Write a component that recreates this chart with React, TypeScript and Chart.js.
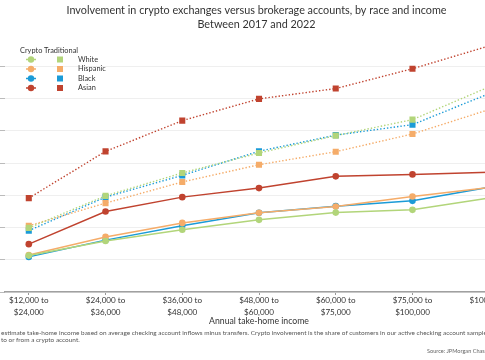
import React, { useEffect, useRef } from "react";
import { Chart, registerables } from "chart.js";

Chart.register(...registerables);

const categories: (string | string[])[] = [
  ["$12,000 to", "$24,000"],
  ["$24,000 to", "$36,000"],
  ["$36,000 to", "$48,000"],
  ["$48,000 to", "$60,000"],
  ["$60,000 to", "$75,000"],
  ["$75,000 to", "$100,000"],
  "$100,000+",
];

const yTicks = [0, 2, 4, 6, 8, 10, 12, 14];

// Crypto involvement (solid lines)
const whiteCrypto = [2.26, 3.17, 3.86, 4.48, 4.93, 5.1, 5.84];
const hispanicCrypto = [2.3, 3.42, 4.29, 4.92, 5.31, 5.93, 6.49];
const blackCrypto = [2.18, 3.22, 4.11, 4.92, 5.33, 5.66, 6.5];
const asianCrypto = [2.97, 5.0, 5.89, 6.45, 7.18, 7.3, 7.44];

// Traditional (brokerage) involvement (dotted lines)
const whiteTrad = [3.98, 5.97, 7.39, 8.63, 9.71, 10.7, 12.74];
const hispanicTrad = [4.11, 5.52, 6.83, 7.9, 8.71, 9.81, 11.33];
const blackTrad = [3.81, 5.89, 7.24, 8.74, 9.74, 10.39, 12.32];
const asianTrad = [5.83, 8.73, 10.64, 11.99, 12.63, 13.86, 15.28];

const groups = ["White", "Hispanic", "Black", "Asian"];
const colors = ["#b2d57a", "#f5ac69", "#1b9bd7", "#c0432f"];

const titleLines = [
  "Involvement in crypto exchanges versus brokerage accounts, by race and income",
  "Between 2017 and 2022",
];
const xTitle = "Annual take-home income";
const legendHeaders = ["Crypto", "Traditional"];
const note1 =
  "estimate take-home income based on average checking account inflows minus transfers. Crypto involvement is the share of customers in our active checking account sample";
const note2 = "to or from a crypto account.";
const source = "Source: JPMorgan Chase Institute";

const FONT = "Lato, 'Open Sans', sans-serif";
const SHIFT = 60;

const legendPlugin = {
  id: "customLegend",
  afterDraw(chart: any) {
    const ctx = chart.ctx as CanvasRenderingContext2D;
    ctx.save();
    ctx.font = `7.4px ${FONT}`;
    ctx.fillStyle = "#333";
    ctx.textBaseline = "middle";
    ctx.textAlign = "left";
    ctx.fillText(legendHeaders[0], SHIFT + 20, 51);
    ctx.fillText(legendHeaders[1], SHIFT + 44, 51);
    const rows = [59.5, 69, 78.5, 88];
    groups.forEach((g, i) => {
      const y = rows[i];
      const c = colors[i];
      ctx.strokeStyle = c;
      ctx.fillStyle = c;
      ctx.lineWidth = 1.5;
      ctx.beginPath();
      ctx.moveTo(SHIFT + 26, y);
      ctx.lineTo(SHIFT + 36, y);
      ctx.stroke();
      ctx.beginPath();
      ctx.arc(SHIFT + 31, y, 3.2, 0, Math.PI * 2);
      ctx.fill();
      ctx.fillRect(SHIFT + 57, y - 3, 6, 6);
      ctx.fillStyle = "#333";
      ctx.fillText(g, SHIFT + 78, y);
    });
    ctx.restore();
  },
};

export default function App() {
  const ref = useRef<HTMLCanvasElement>(null);
  useEffect(() => {
    document.body.style.margin = "0";
    const cryptoSets = [whiteCrypto, hispanicCrypto, blackCrypto, asianCrypto];
    const tradSets = [whiteTrad, hispanicTrad, blackTrad, asianTrad];
    const datasets: any[] = [];
    tradSets.forEach((d, i) => {
      datasets.push({
        label: groups[i] + " traditional",
        data: d.map((v, j) => ({ x: j, y: v })),
        borderColor: colors[i],
        backgroundColor: colors[i],
        borderWidth: 1.4,
        borderDash: [1.4, 2],
        pointStyle: "rect",
        pointRadius: 4.3,
        pointBorderWidth: 0,
        tension: 0,
      });
    });
    cryptoSets.forEach((d, i) => {
      datasets.push({
        label: groups[i] + " crypto",
        data: d.map((v, j) => ({ x: j, y: v })),
        borderColor: colors[i],
        backgroundColor: colors[i],
        borderWidth: 1.5,
        pointStyle: "circle",
        pointRadius: 3.3,
        pointBorderWidth: 0,
        tension: 0,
      });
    });
    const chart = new Chart(ref.current!, {
      type: "line",
      data: { datasets },
      plugins: [legendPlugin],
      options: {
        animation: false,
        responsive: false,
        layout: { padding: { left: SHIFT, right: 32, top: 0, bottom: 0 } },
        plugins: {
          legend: { display: false },
          tooltip: { enabled: false },
          title: {
            display: true,
            text: titleLines,
            color: "#333",
            font: { family: FONT, size: 10.8, weight: "normal", lineHeight: "13.5px" },
            padding: { top: 4, bottom: 6.5 },
          },
        },
        scales: {
          x: {
            type: "linear",
            min: -0.31,
            max: 6.31,
            afterBuildTicks: (axis: any) => {
              axis.ticks = categories.map((_, i) => ({ value: i }));
            },
            afterFit: (s: any) => {
              s.height = 38;
            },
            ticks: {
              autoSkip: false,
              maxRotation: 0,
              padding: 0,
              color: "#333",
              font: { family: FONT, size: 8.1, lineHeight: "11.5px" },
              callback: (v: any) => categories[v as number] ?? "",
            },
            grid: { display: true, drawOnChartArea: false, drawTicks: true, tickLength: 3, tickColor: "#999" },
            border: { display: true, color: "#a0a0a0", width: 1.5 },
            title: {
              display: true,
              text: xTitle,
              color: "#333",
              font: { family: FONT, size: 8.7, lineHeight: "11px" },
              padding: { top: 0, bottom: 3.8 },
            },
          },
          y: {
            type: "linear",
            min: 0,
            max: 15.8,
            afterBuildTicks: (axis: any) => {
              axis.ticks = yTicks.map((v) => ({ value: v }));
            },
            afterFit: (s: any) => {
              s.width = 5;
            },
            ticks: { display: false },
            grid: { color: "#efefef", lineWidth: 1, tickLength: 5, tickColor: "#bbb", drawTicks: true },
            border: { display: false },
          },
        },
      },
    });
    return () => chart.destroy();
  }, []);

  const noteStyle: React.CSSProperties = {
    position: "absolute",
    whiteSpace: "nowrap",
    fontFamily: FONT,
    fontSize: "6.45px",
    color: "#555",
    lineHeight: "7px",
  };

  return (
    <div style={{ position: "fixed", left: 0, top: 0, width: 485, height: 360, overflow: "hidden", background: "#fff" }}>
      <canvas
        ref={ref}
        width={485 + 2 * SHIFT}
        height={330}
        style={{ position: "absolute", left: -SHIFT, top: 0, width: 485 + 2 * SHIFT, height: 330 }}
      />
      <div style={{ ...noteStyle, left: 1, top: 329 }}>{note1}</div>
      <div style={{ ...noteStyle, left: 1, top: 336 }}>{note2}</div>
      <div style={{ ...noteStyle, left: 427, top: 347, fontSize: "5.6px", color: "#666" }}>{source}</div>
    </div>
  );
}
